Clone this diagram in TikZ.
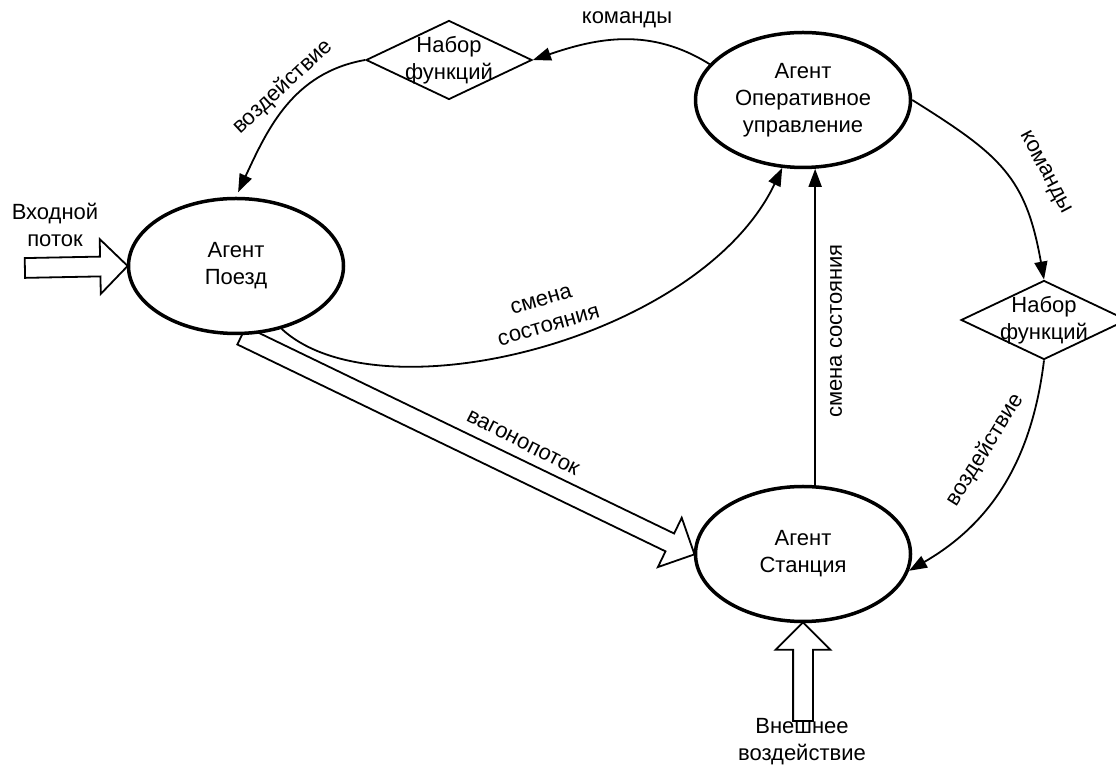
\documentclass[tikz,border=0pt]{standalone}
\usepackage{fontspec}
\setmainfont{Liberation Sans}
\usetikzlibrary{arrows.meta,positioning,shapes.geometric,shapes.arrows,calc,backgrounds}

\begin{document}
\begin{tikzpicture}[
    x=1pt, y=1pt,
    font=\fontsize{22}{27}\selectfont,
    agent/.style={draw, ellipse, line width=3.5pt, fill=white, minimum width=215pt, minimum height=135pt, inner sep=0pt, align=center},
    fset/.style={draw, diamond, line width=1.8pt, fill=white, minimum width=166pt, minimum height=79pt, inner sep=0pt},
    arr/.style={-{Triangle[length=18pt,width=13pt]}, line width=1.8pt},
    blockarr/.style={draw, single arrow, line width=1.8pt, fill=white, inner xsep=0pt, inner ysep=9pt, single arrow head extend=17.5pt},
    lbl/.style={align=center, inner sep=0pt}
]
\useasboundingbox (0,0) rectangle (1116,765);

% agents and function sets
\node[agent] (poezd) at (236,499) {Агент\\Поезд};
\node[agent] (oper) at (803,665) {Агент\\Оперативное\\управление};
\node[agent] (stanc) at (803,211) {Агент\\Станция};
\node[fset, label={[lbl]center:{Набор\\функций}}] (nabor1) at (449,705) {};
\node[fset, label={[lbl]center:{Набор\\функций}}] (nabor2) at (1044,445) {};

\coordinate (inlet) at (24,497);
\coordinate (extin) at (803,43);

% flows
\begin{scope}[on background layer]
\path let \p1=($(poezd.west)-(inlet)$), \n1={veclen(\x1,\y1)} in
    (inlet) -- (poezd.west) node[at start, sloped, anchor=tail, blockarr, minimum height=\n1] (flowin) {};
\path let \p1=($(stanc.west)-(poezd.-86)$), \n1={veclen(\x1,\y1)} in
    (poezd.-86) -- (stanc.west) node[at start, sloped, anchor=tail, blockarr, minimum height=\n1] (flowvag) {};
\path let \p1=($(stanc.south)-(extin)$), \n1={veclen(\x1,\y1)} in
    (extin) -- (stanc.south) node[at start, sloped, anchor=tail, blockarr, minimum height=\n1] (flowext) {};
\end{scope}

% control links
\draw[arr] (oper.159) to[out=148, in=19] (nabor1.east);
\draw[arr, shorten >=5pt] (nabor1.west) to[out=190, in=65] (poezd.north);
\draw[arr] (poezd.-54) .. controls +(97,-90) and +(-82,-172) .. (oper.-107);
\draw[arr] (stanc.80) -- (oper.-80);
\draw[arr] (oper.east) to[out=-32, in=100, looseness=1.2] (nabor2.north);
\draw[arr] (nabor2.south) to[out=-97, in=30] (stanc.-9);

% labels
\node[lbl] (lcmd1) at (627,745) {команды};
\node[lbl, rotate=43] (lact1) at (283,678) {воздействие};
\node[lbl, rotate=16] (lstate1) at (545,452) {смена\\состояния};
\node[lbl, rotate=-27] (lvag) at (523,322) {вагонопоток};
\node[lbl, rotate=-62] (lcmd2) at (1045,592) {команды};
\node[lbl, rotate=90] (lstate2) at (836,434) {смена состояния};
\node[lbl, rotate=58] (lact2) at (985,315) {воздействие};
\node[lbl] (lin) at (55,540) {Входной\\поток};
\node[lbl] (lext) at (802,23) {Внешнее\\воздействие};
\end{tikzpicture}
\end{document}
